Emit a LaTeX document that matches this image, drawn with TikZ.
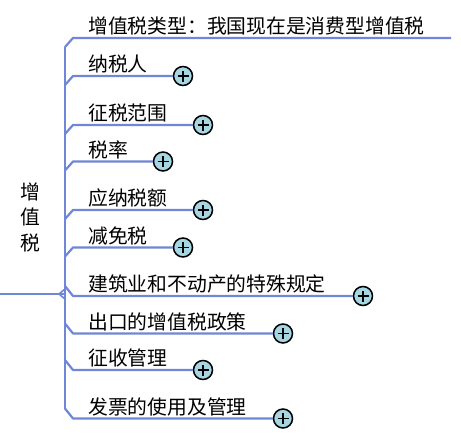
\documentclass[tikz,border=0pt]{standalone}
\usepackage{fontspec}
\newfontfamily\cjk{Noto Sans CJK SC}
\definecolor{twigblue}{RGB}{112,134,214}
\definecolor{plusblue}{RGB}{166,214,226}

\tikzset{
  topic/.style    = {anchor=base west, inner sep=0pt,
                     font=\cjk\fontsize{19.8}{25.5}\selectfont},
  rootlabel/.style= {align=center, inner sep=0pt,
                     font=\cjk\fontsize{19.8}{25.5}\selectfont},
  expander/.style = {circle, draw=black, line width=1.5pt, fill=plusblue,
                     minimum size=19pt, inner sep=0pt,
                     path picture={
                       \draw[line width=1.7pt]
                         ([xshift=-5.5pt]path picture bounding box.center) --
                         ([xshift=5.5pt]path picture bounding box.center)
                         ([yshift=-5.5pt]path picture bounding box.center) --
                         ([yshift=5.5pt]path picture bounding box.center);}},
  twig/.style     = {draw=twigblue, line width=2.2pt, line join=round},
  trunk/.style    = {draw=twigblue, line width=2.8pt}
}

\begin{document}
\begin{tikzpicture}[x=1pt, y=-1pt]
    \useasboundingbox (0,0) rectangle (461,445);

    % root and spine
    \node[rootlabel] (root) at (30,217) {增\\值\\税};
    \coordinate (r0)    at (0,294);
    \coordinate (hub)   at (65,294);
    \coordinate (stop)  at (65,47);
    \coordinate (sbot)  at (65,409);
    \draw[trunk]           (r0)    --     (hub);
    \draw[trunk]           (stop)  --     (sbot);
    \draw[twig, line width=1.6pt] (65,289) -- (59,294) -- (65,299);

    % branches above the root
    \coordinate (e1) at (451,38);
    \node[topic]    (b1) at (88,33.5)  {增值税类型：我国现在是消费型增值税};
    \draw[twig]          (65,47)    -- ++(8,-9)  -- (e1);

    \node[topic]    (b2) at (88,71.5)  {纳税人};
    \node[expander] (p2) at (183,76)   {};
    \draw[twig]          (65,85)    -- ++(8,-9)  -- (p2.west);

    \node[topic]    (b3) at (88,120.5) {征税范围};
    \node[expander] (p3) at (203,125)  {};
    \draw[twig]          (65,134)   -- ++(8,-9)  -- (p3.west);

    \node[topic]    (b4) at (88,157)   {税率};
    \node[expander] (p4) at (163,161.5){};
    \draw[twig]          (65,170.5) -- ++(8,-9)  -- (p4.west);

    \node[topic]    (b5) at (88,205.5) {应纳税额};
    \node[expander] (p5) at (203,210)  {};
    \draw[twig]          (65,219)   -- ++(8,-9)  -- (p5.west);

    \node[topic]    (b6) at (88,243)   {减免税};
    \node[expander] (p6) at (183,247.5){};
    \draw[twig]          (65,256.5) -- ++(8,-9)  -- (p6.west);

    % branches below the root
    \node[topic]    (b7) at (88,291.5) {建筑业和不动产的特殊规定};
    \node[expander] (p7) at (363,296)  {};
    \draw[twig]          (65,286)   -- ++(8,10)  -- (p7.west);

    \node[topic]    (b8) at (88,329)   {出口的增值税政策};
    \node[expander] (p8) at (283,333.5){};
    \draw[twig]          (65,323.5) -- ++(8,10)  -- (p8.west);

    \node[topic]    (b9) at (88,365.5) {征收管理};
    \node[expander] (p9) at (203,370)  {};
    \draw[twig]          (65,360)   -- ++(8,10)  -- (p9.west);

    \node[topic]    (b10) at (88,414)  {发票的使用及管理};
    \node[expander] (p10) at (283,418.5){};
    \draw[twig]          (65,408.5) -- ++(8,10)  -- (p10.west);
\end{tikzpicture}
\end{document}
